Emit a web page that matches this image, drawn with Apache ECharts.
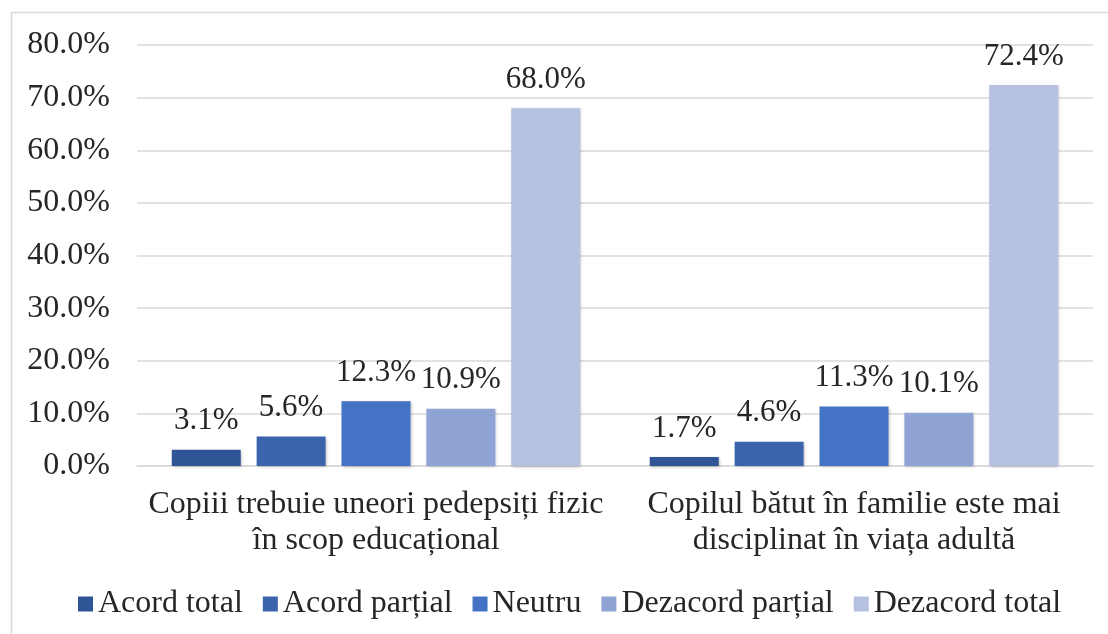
<!DOCTYPE html>
<html>
<head>
<meta charset="utf-8">
<script src="https://cdn.jsdelivr.net/npm/echarts@6/dist/echarts.min.js"></script>
<style>
html,body{margin:0;padding:0;background:#fff;}
#c{width:1108px;height:634px;}
</style>
</head>
<body>
<div id="c"></div>
<script>
const categories = [
  "Copiii trebuie uneori pedepsiți fizic\nîn scop educațional",
  "Copilul bătut în familie este mai\ndisciplinat în viața adultă"
];
const seriesNames = ["Acord total", "Acord parțial", "Neutru", "Dezacord parțial", "Dezacord total"];
const acordTotal = [3.1, 1.7];
const acordPartial = [5.6, 4.6];
const neutru = [12.3, 11.3];
const dezacordPartial = [10.9, 10.1];
const dezacordTotal = [68.0, 72.4];
const yTicks = [0, 10, 20, 30, 40, 50, 60, 70, 80];

const values = [acordTotal, acordPartial, neutru, dezacordPartial, dezacordTotal];
const colors = ["#2F5597", "#3B64AD", "#4472C4", "#8FA3D5", "#B6C1E2"];
const FONT = "Liberation Serif";
const FS = 32;
const TXT = "#262626";

const chart = echarts.init(document.getElementById('c'), null, {renderer: 'canvas'});
chart.setOption({
  animation: false,
  textStyle: {fontFamily: FONT},
  graphic: [{
    type: 'rect', shape: {x: 11.5, y: 12.5, width: 1200, height: 700},
    style: {fill: 'none', stroke: '#D9D9D9', lineWidth: 1.5}, silent: true, z: -1
  }],
  grid: {left: 137, right: 15, top: 45, bottom: 168, containLabel: false},
  legend: {
    top: 583, left: 73,
    itemWidth: 15, itemHeight: 15, itemGap: 20,
    icon: 'rect',
    textStyle: {fontFamily: FONT, fontSize: FS, color: TXT},
    data: seriesNames
  },
  xAxis: {
    type: 'category', data: categories,
    axisLine: {show: true, lineStyle: {color: '#D9D9D9', width: 1.5}},
    axisTick: {show: false},
    axisLabel: {interval: 0, fontFamily: FONT, fontSize: FS, color: TXT, lineHeight: 36, margin: 21}
  },
  yAxis: {
    type: 'value', min: yTicks[0], max: yTicks[yTicks.length - 1], interval: 10,
    axisLine: {show: false}, axisTick: {show: false},
    splitLine: {lineStyle: {color: '#D9D9D9', width: 1.5}},
    axisLabel: {fontFamily: FONT, fontSize: FS, color: TXT, margin: 27,
      formatter: v => v.toFixed(1) + '%'}
  },
  series: values.map((arr, i) => ({
    name: seriesNames[i], type: 'bar', data: arr,
    barWidth: 69, barGap: '23%',
    itemStyle: {color: colors[i], shadowColor: 'rgba(0,0,0,0.25)', shadowBlur: 3, shadowOffsetX: 1, shadowOffsetY: 1},
    label: {show: true, position: 'top', distance: 13, fontFamily: FONT, fontSize: 31, color: TXT,
      formatter: p => p.value.toFixed(1) + '%'}
  }))
});
</script>
</body>
</html>
